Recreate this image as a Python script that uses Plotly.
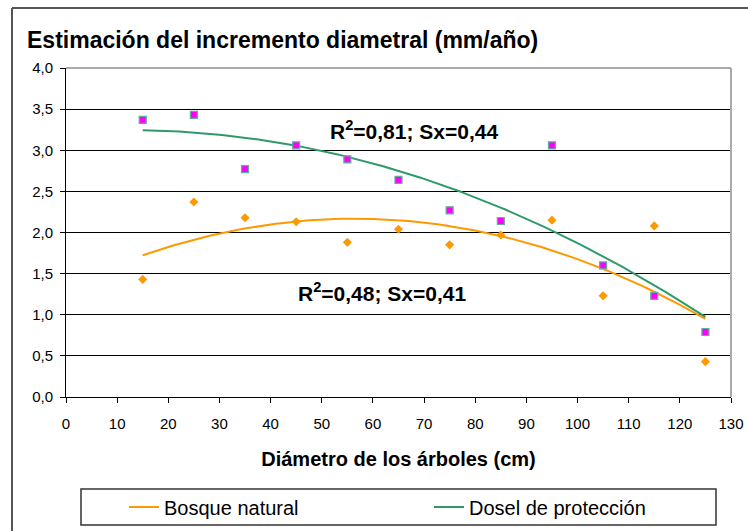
import numpy as np
import plotly.graph_objects as go

diametro = [15, 25, 35, 45, 55, 65, 75, 85, 95, 105, 115, 125]
bosque_natural = [1.43, 2.37, 2.18, 2.13, 1.88, 2.04, 1.85, 1.97, 2.15, 1.23, 2.08, 0.43]
dosel_proteccion = [3.37, 3.43, 2.77, 3.06, 2.89, 2.64, 2.27, 2.14, 3.06, 1.60, 1.23, 0.79]
y_ticks = [0.0, 0.5, 1.0, 1.5, 2.0, 2.5, 3.0, 3.5, 4.0]
y_ticktext = ["0,0", "0,5", "1,0", "1,5", "2,0", "2,5", "3,0", "3,5", "4,0"]
x_ticks = list(range(0, 131, 10))

ORANGE = "#FF9900"
GREEN = "#2E9A6A"
MAGENTA = "#FF00FF"

W, H = 748, 531
L, R, T, B = 66, 17, 68, 134
pw, ph = W - L - R, H - T - B

def px(x):
    return (x - L) / pw

def py(y):
    return (H - B - y) / ph

xs = np.linspace(min(diametro), max(diametro), 200)
fit_b = np.polyval(np.polyfit(diametro, bosque_natural, 2), xs)
fit_d = np.polyval(np.polyfit(diametro, dosel_proteccion, 2), xs)

fig = go.Figure()
fig.add_trace(go.Scatter(x=xs, y=fit_b, mode="lines", name="Bosque natural",
                         line=dict(color=ORANGE, width=2), legend="legend"))
fig.add_trace(go.Scatter(x=xs, y=fit_d, mode="lines", name="Dosel de protección",
                         line=dict(color=GREEN, width=2), legend="legend2"))
fig.add_trace(go.Scatter(x=diametro, y=bosque_natural, mode="markers", showlegend=False,
                         marker=dict(symbol="diamond", size=7, color=ORANGE, line=dict(width=0))))
fig.add_trace(go.Scatter(x=diametro, y=dosel_proteccion, mode="markers", showlegend=False,
                         marker=dict(symbol="square", size=7, color=MAGENTA,
                                     line=dict(color="#5FAF9A", width=1.2))))

shapes = [
    dict(type="line", xref="paper", yref="paper", x0=px(12), x1=px(748), y0=py(8), y1=py(8),
         line=dict(color="#555555", width=2)),
    dict(type="line", xref="paper", yref="paper", x0=px(12), x1=px(12), y0=py(8), y1=py(531),
         line=dict(color="#555555", width=2)),
    dict(type="line", xref="paper", yref="paper", x0=0, x1=1, y0=1, y1=1,
         line=dict(color="#AAAAAA", width=2)),
    dict(type="line", xref="paper", yref="paper", x0=1, x1=1, y0=0, y1=1,
         line=dict(color="#AAAAAA", width=2)),
    dict(type="rect", xref="paper", yref="paper", x0=px(81), x1=px(716), y0=py(525), y1=py(489),
         line=dict(color="#333333", width=1.5), fillcolor="rgba(0,0,0,0)"),
]

tickfont = dict(family="Liberation Sans, Arial", size=15, color="black")
legfont = dict(family="Liberation Sans, Arial", size=20, color="black")

fig.update_layout(
    width=W, height=H,
    margin=dict(l=L, r=R, t=T, b=B, autoexpand=False),
    paper_bgcolor="white", plot_bgcolor="white",
    font=dict(family="Liberation Sans, Arial, sans-serif", color="black"),
    title=dict(text="<b>Estimación del incremento diametral (mm/año)</b>",
               x=27 / W, xref="container", xanchor="left", y=1 - 40 / H, yref="container",
               yanchor="middle", font=dict(size=23, color="black")),
    xaxis=dict(range=[0, 130], tickvals=x_ticks, showgrid=False, zeroline=False,
               showline=True, linecolor="black", linewidth=1,
               ticks="outside", ticklen=5, tickcolor="black", tickfont=tickfont,
               ticklabelstandoff=8, automargin=False,
               title=dict(text="<b>Diámetro de los árboles (cm)</b>",
                          font=dict(size=20), standoff=20)),
    yaxis=dict(range=[0, 4], tickvals=y_ticks, ticktext=y_ticktext,
               showgrid=True, gridcolor="black", gridwidth=1, zeroline=False,
               showline=True, linecolor="black", linewidth=1, automargin=False,
               ticks="outside", ticklen=5, tickcolor="black", tickfont=tickfont,
               ticklabelstandoff=4),
    legend=dict(orientation="h", x=px(124), xanchor="left", y=py(507), yanchor="middle",
                font=legfont, bgcolor="rgba(0,0,0,0)", borderwidth=0),
    legend2=dict(orientation="h", x=px(429), xanchor="left", y=py(507), yanchor="middle",
                 font=legfont, bgcolor="rgba(0,0,0,0)", borderwidth=0),
    shapes=shapes,
)
fig.add_annotation(text="<b>R<sup>2</sup>=0,81; Sx=0,44</b>", xref="paper", yref="paper",
                   x=px(414), y=py(130), xanchor="center", yanchor="middle",
                   showarrow=False, font=dict(size=21))
fig.add_annotation(text="<b>R<sup>2</sup>=0,48; Sx=0,41</b>", xref="paper", yref="paper",
                   x=px(382), y=py(292), xanchor="center", yanchor="middle",
                   showarrow=False, font=dict(size=21))

fig.write_html("out.html", config={"displayModeBar": False},
               post_script="document.body.style.margin='0';")
